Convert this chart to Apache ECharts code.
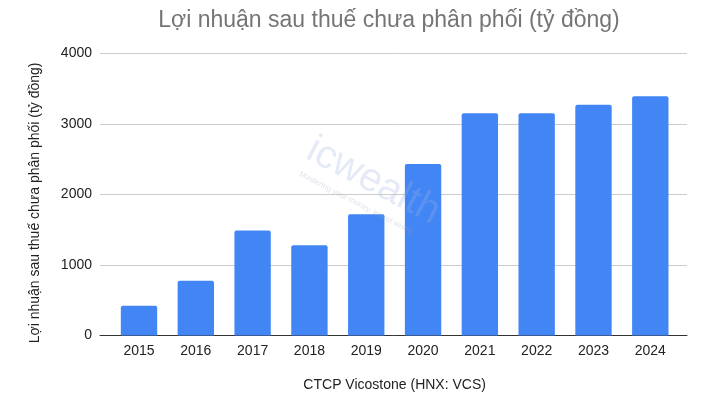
<!DOCTYPE html>
<html>
<head>
<meta charset="utf-8">
<script src="https://cdn.jsdelivr.net/npm/echarts@6/dist/echarts.min.js"></script>
<style>html,body{margin:0;padding:0;background:#fff}#c{width:710px;height:400px}</style>
</head>
<body>
<div id="c"></div>
<script>
var categories = ['2015','2016','2017','2018','2019','2020','2021','2022','2023','2024'];
var profitValues = [420, 775, 1490, 1280, 1720, 2430, 3150, 3150, 3270, 3390];
var yTicks = [0, 1000, 2000, 3000, 4000];
var titleText = 'Lợi nhuận sau thuế chưa phân phối (tỷ đồng)';
var yAxisTitle = 'Lợi nhuận sau thuế chưa phân phối (tỷ đồng)';
var xAxisTitle = 'CTCP Vicostone (HNX: VCS)';

var FONT = '"Liberation Sans", Arial, sans-serif';
var chart = echarts.init(document.getElementById('c'), null, {renderer: 'canvas'});
chart.setOption({
  animation: false,
  backgroundColor: '#ffffff',
  title: {
    text: titleText,
    left: 384, top: 4, textAlign: 'center',
    textStyle: {fontFamily: FONT, fontSize: 23, fontWeight: 'normal', color: '#757575'}
  },
  grid: [
    {left: 100, right: 23, top: 53.3, bottom: 64.5},
    {left: 110.6, right: 31.3, top: 53.3, bottom: 64.5}
  ],
  xAxis: [
    {gridIndex: 0, type: 'value', min: 0, max: 1,
     axisLine: {show: true, lineStyle: {color: '#333333', width: 1}},
     axisTick: {show: false}, axisLabel: {show: false}, splitLine: {show: false}},
    {gridIndex: 1, type: 'category', data: categories,
     name: xAxisTitle, nameLocation: 'middle', nameGap: 43,
     nameTextStyle: {fontFamily: FONT, fontSize: 14, color: '#222222'},
     axisLine: {show: false}, axisTick: {show: false},
     axisLabel: {fontFamily: FONT, fontSize: 14, color: '#222222', margin: 9}}
  ],
  yAxis: [
    {gridIndex: 0, type: 'value', min: yTicks[0], max: yTicks[yTicks.length-1], interval: 1000,
     name: yAxisTitle, nameLocation: 'middle', nameGap: 58, nameRotate: 90,
     nameTextStyle: {fontFamily: FONT, fontSize: 14, color: '#222222', padding: [0, 17, 0, 0]},
     axisLine: {show: false}, axisTick: {show: false},
     axisLabel: {fontFamily: FONT, fontSize: 14, color: '#222222', margin: 8,
                 formatter: function (v) { return String(v); }},
     splitLine: {show: true, lineStyle: {color: '#cccccc', width: 1}}},
    {gridIndex: 1, type: 'value', min: yTicks[0], max: yTicks[yTicks.length-1], show: false,
     splitLine: {show: false}}
  ],
  series: [{
    type: 'bar', xAxisIndex: 1, yAxisIndex: 1,
    data: profitValues, barCategoryGap: '36%',
    itemStyle: {color: '#4285F4', borderRadius: [2, 2, 0, 0]}
  }],
  graphic: [
    {type: 'text', left: 300, top: 130, rotation: -0.48, z: 100,
     style: {text: 'icwealth', font: '300 40px ' + FONT, fill: 'rgba(160,180,225,0.28)'}},
    {type: 'text', left: 298, top: 170, rotation: -0.48, z: 100,
     style: {text: 'Mastering your money, invest wisely', font: '8px ' + FONT, fill: 'rgba(160,170,190,0.35)'}}
  ]
});
</script>
</body>
</html>
